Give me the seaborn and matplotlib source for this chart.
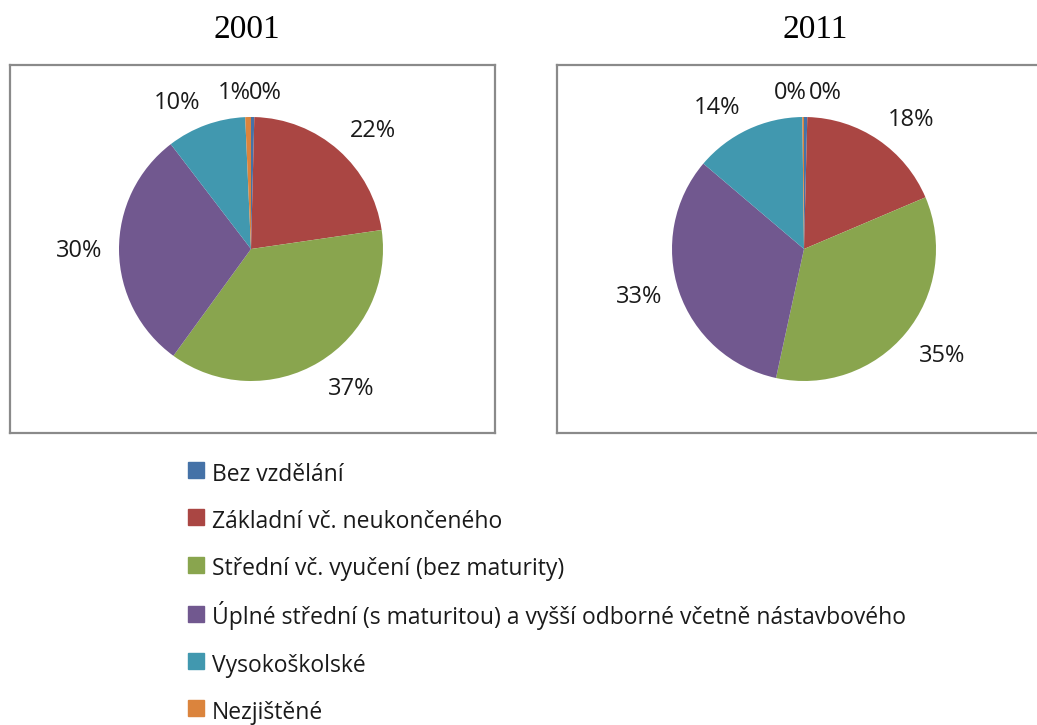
import matplotlib
matplotlib.use("Agg")
import matplotlib.pyplot as plt
from matplotlib.lines import Line2D
import numpy as np
import seaborn as sns

# ------------------------------------------------------------------
# data
# ------------------------------------------------------------------
categories = [
    "Bez vzdělání",
    "Základní vč. neukončeného",
    "Střední vč. vyučení (bez maturity)",
    "Úplné střední (s maturitou) a vyšší odborné včetně nástavbového",
    "Vysokoškolské",
    "Nezjištěné",
]
years = ["2001", "2011"]
values_2001 = [0.4, 22.3, 37.3, 29.6, 9.7, 0.7]
values_2011 = [0.4, 18.2, 34.8, 32.8, 13.6, 0.2]
colors = ["#4572A7", "#AA4643", "#89A54E", "#71588F", "#4198AF", "#DB843D"]

sns.set_theme(style="white")
plt.rcParams['font.family'] = ['Open Sans', 'DejaVu Sans']

W, H = 1037, 725
fig = plt.figure(figsize=(W / 100, H / 100), dpi=100)

R = 132  # pie radius in px
# box x0, y0, w, h, pie centre cx, cy, title x  (pixels, from top-left)
panels = [
    (10, 65, 485, 368, 251, 249, 247),
    (557, 65, 485, 368, 804, 249, 815),
]
# tiny slice labels sit above the pie top, shifted sideways (in radii)
tiny_dx = [{0: 0.11, 5: -0.13}, {0: 0.16, 5: -0.10}]

for i, (vals, year) in enumerate(zip([values_2001, values_2011], years)):
    x0, y0, w, h, cx, cy, tx = panels[i]
    ax = fig.add_axes([x0 / W, 1 - (y0 + h) / H, w / W, h / H])
    wedges, texts, autotexts = ax.pie(
        vals, colors=colors, startangle=90, counterclock=False, radius=1,
        autopct=lambda p: f"{p:.0f}%", pctdistance=1.3,
        wedgeprops=dict(linewidth=0),
        textprops=dict(fontsize=17, color="#1a1a1a"),
    )
    # excel-like "best fit": nearest corner of the label just outside the pie
    for wd, at in zip(wedges, autotexts):
        ang = np.deg2rad((wd.theta1 + wd.theta2) / 2)
        ux, uy = np.cos(ang), np.sin(ang)
        at.set_position((1.13 * ux, 1.13 * uy))
        at.set_ha("left" if ux > 0.1 else ("right" if ux < -0.1 else "center"))
        at.set_va("baseline" if uy > 0.4 else ("top" if uy < -0.4 else "center"))
    for idx, dx in tiny_dx[i].items():
        autotexts[idx].set_position((dx, 1.18))
        autotexts[idx].set_ha("center")
        autotexts[idx].set_va("center")
    ax.set_xlim(-(cx - x0) / R, (x0 + w - cx) / R)
    ax.set_ylim(-(y0 + h - cy) / R, (cy - y0) / R)
    ax.set_aspect("auto")
    ax.set_frame_on(True)
    ax.set_xticks([])
    ax.set_yticks([])
    for sp in ax.spines.values():
        sp.set_visible(True)
        sp.set_color("#8a8a8a")
        sp.set_linewidth(1.6)
    fig.text(tx / W, 1 - 30 / H, year, ha="center", va="center",
             family="Liberation Serif", fontsize=24, color="black")

handles = [Line2D([], [], linestyle="", marker="s", markersize=11.5,
                  markerfacecolor=c, markeredgecolor=c) for c in colors]
fig.legend(handles, categories, loc="upper left",
           bbox_to_anchor=(187.5 / W, 1 - 459 / H), frameon=False,
           handlelength=0.75, handleheight=1.5, handletextpad=0.33,
           labelspacing=0.85, borderpad=0, borderaxespad=0,
           fontsize=16.5, labelcolor="#1a1a1a")

fig.savefig("out.png", dpi=100, facecolor="white")
